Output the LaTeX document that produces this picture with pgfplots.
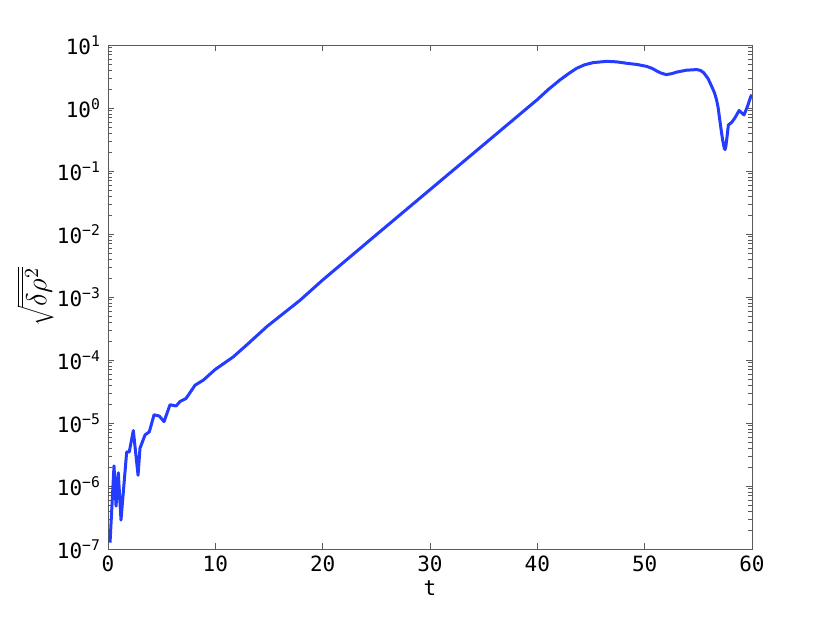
\documentclass[border=0pt]{standalone}
\usepackage{fontspec}
\setmainfont{DejaVu Sans Mono}
\usepackage{pgfplots}
\pgfplotsset{compat=1.18}
\definecolor{curveblue}{RGB}{35,60,255}
\definecolor{axisgray}{RGB}{90,90,90}

\begin{document}
\begin{tikzpicture}
\useasboundingbox (-54pt,-35pt) rectangle (361pt,274.5pt);
\begin{axis}[
    scale only axis,
    width=322pt, height=252pt,
    xmin=0, xmax=60,
    ymode=log,
    ymin=1e-7, ymax=1e1,
    xtick={0,10,20,30,40,50,60},
    ytick={1e-7,1e-6,1e-5,1e-4,1e-3,1e-2,1e-1,1e0,1e1},
    yticklabels={10\textsuperscript{−7},10\textsuperscript{−6},10\textsuperscript{−5},10\textsuperscript{−4},10\textsuperscript{−3},10\textsuperscript{−2},10\textsuperscript{−1},10\textsuperscript{0},10\textsuperscript{1}},
    xticklabel style={/pgf/number format/assume math mode=true},
    tick label style={font=\fontsize{10.5}{12}\selectfont, black},
    tick align=inside,
    major tick length=3pt,
    minor tick length=1.8pt,
    axis line style={axisgray},
    every tick/.style={axisgray},
    xlabel={t},
    xlabel style={font=\fontsize{10.5}{12}\selectfont, yshift=2.5pt},
    ylabel={$\sqrt{\overline{\delta\rho^2}}$},
    every axis y label/.style={at={(axis description cs:-0.113,0.5)}, rotate=90, anchor=center},
    ylabel style={font=\fontsize{14}{16}\selectfont},
]
\addplot[curveblue, line width=1.5pt, line join=round] coordinates {
    (0.19,1.26e-7) (0.56,2.09e-6) (0.75,4.79e-7) (0.96,1.62e-6) (1.21,2.88e-7)
    (1.74,3.47e-6) (1.98,3.47e-6) (2.36,7.59e-6) (2.80,1.48e-6) (2.98,3.98e-6)
    (3.45,6.46e-6) (3.85,7.24e-6) (4.29,1.35e-5) (4.78,1.29e-5) (5.22,1.05e-5)
    (5.78,1.95e-5) (6.34,1.86e-5) (6.71,2.19e-5) (7.27,2.45e-5) (8.11,3.98e-5)
    (8.88,4.79e-5) (10.0,7.1e-5) (11.67,1.12e-4) (13.0,1.78e-4) (14.8,3.39e-4)
    (17.9,8.9e-4) (20,1.86e-3) (25,9.73e-3) (30,5.05e-2) (35,0.262)
    (40,1.36) (41,1.95) (42.1,2.78) (43,3.6) (43.67,4.27) (44.4,4.85) (45.2,5.25)
    (46.46,5.50) (47.4,5.40) (48.3,5.13) (49.3,4.90) (50.2,4.57) (50.7,4.25)
    (51.1,3.89) (51.5,3.60) (52.0,3.39) (52.5,3.50) (53.0,3.72) (53.9,3.98)
    (54.85,4.07) (55.2,3.95) (55.5,3.63) (55.9,2.95) (56.25,2.19) (56.5,1.75)
    (56.7,1.35) (56.85,1.0) (57.0,0.646) (57.15,0.42) (57.27,0.309) (57.42,0.23)
    (57.49,0.219) (57.57,0.25) (57.64,0.309) (57.8,0.537) (58.1,0.589) (58.4,0.692)
    (58.8,0.912) (59.26,0.776) (59.57,1.05) (59.88,1.51) (60,1.62)
};
\end{axis}
\end{tikzpicture}
\end{document}
